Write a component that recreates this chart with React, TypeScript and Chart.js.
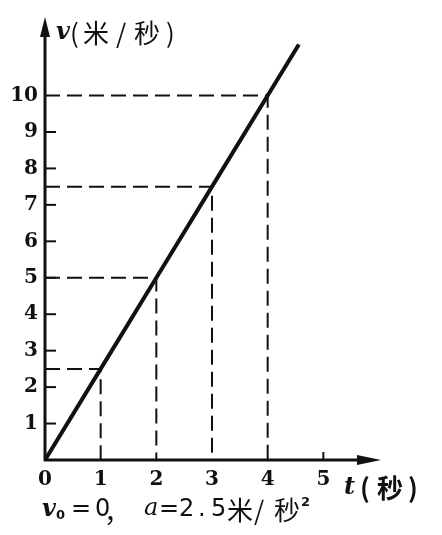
import { useEffect, useRef } from "react";
import { Chart, registerables } from "chart.js";

Chart.register(...registerables);

// Data
const lineT = [0, 1, 2, 3, 4, 4.56];
const lineV = [0, 2.5, 5, 7.5, 10, 11.4];
const markT = [1, 2, 3, 4];
const markV = [2.5, 5, 7.5, 10];
const xTickLabels = ["0", "1", "2", "3", "4", "5"];
const yTickLabels = ["1", "2", "3", "4", "5", "6", "7", "8", "9", "10"];
const yTickMarks = [1, 2, 3, 4, 5, 6, 7, 8, 9];
const xTickMarks = [5];
const yAxisTitle = ["v", "(", "米", "/", "秒", ")"];
const xAxisTitle = ["t", "(", "秒", ")"];
// caption: v₀=0， a=2.5米/秒²
const captionParts = ["v", "0", "=", "0", "，", "a", "=", "2", ".", "5", "米", "/", "秒", "2"];

const INK = "#111111";

const SERIF_IT = "italic bold 24px 'DejaVu Serif'";
const CJK = "26px 'Noto Sans CJK SC'";
const CJK_B = "bold 26px 'Noto Sans CJK SC'";
const SANS = "24px 'DejaVu Sans'";
const SMALL = "bold 13px 'DejaVu Sans'";

const captionStyle: [string, number, number][] = [
  [SERIF_IT, 42, 510],
  [SMALL, 56, 516],
  [SANS, 71, 510],
  [SANS, 95, 510],
  [CJK, 104, 512],
  ["italic 24px 'DejaVu Serif'", 144, 509],
  [SANS, 159, 510],
  [SANS, 179, 510],
  [SANS, 198, 510],
  [SANS, 211, 510],
  [CJK, 227, 510],
  [CJK, 254, 510],
  [CJK, 274, 510],
  [SMALL, 301, 503],
];

const axesPlugin = {
  id: "arrowAxes",
  afterDraw(chart: any) {
    const ctx = chart.ctx as CanvasRenderingContext2D;
    const xs = chart.scales.x;
    const ys = chart.scales.y;
    const x0 = xs.getPixelForValue(0);
    const y0 = ys.getPixelForValue(0);
    const xEnd = xs.getPixelForValue(xs.max);
    const yEnd = ys.getPixelForValue(ys.max);
    ctx.save();
    ctx.strokeStyle = INK;
    ctx.fillStyle = INK;
    ctx.lineWidth = 3;
    ctx.lineCap = "butt";
    // y axis
    ctx.beginPath();
    ctx.moveTo(x0, y0 + 1);
    ctx.lineTo(x0, yEnd + 10);
    ctx.stroke();
    ctx.beginPath();
    ctx.moveTo(x0, yEnd - 2);
    ctx.lineTo(x0 - 5, yEnd + 18);
    ctx.lineTo(x0 + 5, yEnd + 18);
    ctx.closePath();
    ctx.fill();
    // x axis
    ctx.beginPath();
    ctx.moveTo(x0 - 1, y0);
    ctx.lineTo(xEnd - 10, y0);
    ctx.stroke();
    ctx.beginPath();
    ctx.moveTo(xEnd + 2, y0);
    ctx.lineTo(xEnd - 22, y0 - 5);
    ctx.lineTo(xEnd - 22, y0 + 5);
    ctx.closePath();
    ctx.fill();
    // tick marks
    ctx.lineWidth = 2;
    yTickMarks.forEach((v) => {
      const py = ys.getPixelForValue(v);
      ctx.beginPath();
      ctx.moveTo(x0, py);
      ctx.lineTo(x0 + 11, py);
      ctx.stroke();
    });
    xTickMarks.forEach((t) => {
      const px = xs.getPixelForValue(t);
      ctx.beginPath();
      ctx.moveTo(px, y0);
      ctx.lineTo(px, y0 - 8);
      ctx.stroke();
    });
    // y axis title
    ctx.textBaseline = "middle";
    ctx.textAlign = "left";
    const yTitlePos = [56, 70, 83, 116, 134, 166];
    yAxisTitle.forEach((s, i) => {
      ctx.font = i === 0 ? SERIF_IT : CJK;
      ctx.fillText(s, yTitlePos[i], 33);
    });
    // x axis title
    const xTitlePos = [344, 360, 377, 408];
    xAxisTitle.forEach((s, i) => {
      ctx.font = i === 0 ? SERIF_IT : CJK_B;
      ctx.fillText(s, xTitlePos[i], 488);
    });
    // caption
    captionParts.forEach((s, i) => {
      const [f, px, py] = captionStyle[i];
      ctx.font = f;
      ctx.fillText(s, px, py);
    });
    ctx.restore();
  },
};

export default function App() {
  const ref = useRef<HTMLCanvasElement | null>(null);
  useEffect(() => {
    if (!ref.current) return;
    const dashed = markT.map((t, i) => ({
      data: [
        { x: 0, y: markV[i] },
        { x: t, y: markV[i] },
        { x: t, y: 0 },
      ],
      borderColor: INK,
      borderWidth: 2,
      borderDash: [15, 7],
      pointRadius: 0,
      showLine: true,
      fill: false,
    }));
    const chart = new Chart(ref.current, {
      type: "scatter",
      data: {
        datasets: [
          ...dashed,
          {
            data: lineT.map((t, i) => ({ x: t, y: lineV[i] })),
            borderColor: INK,
            borderWidth: 4,
            pointRadius: 0,
            showLine: true,
            fill: false,
          },
        ],
      },
      plugins: [axesPlugin],
      options: {
        responsive: false,
        animation: false,
        layout: { padding: { top: 16, right: 63, left: 0, bottom: 0 } },
        plugins: { legend: { display: false }, tooltip: { enabled: false } },
        scales: {
          x: {
            type: "linear",
            min: 0,
            max: 6,
            grid: { display: false, drawTicks: false },
            border: { display: false },
            afterFit: (s: any) => {
              s.height = 75;
            },
            ticks: {
              stepSize: 1,
              padding: 8,
              color: INK,
              font: { family: "'DejaVu Serif'", size: 20, weight: "bold" },
              autoSkip: false,
              maxRotation: 0,
              callback: (v: any) =>
                Number.isInteger(v) && v < xTickLabels.length ? xTickLabels[v] : "",
            },
          },
          y: {
            type: "linear",
            min: 0,
            max: 12.1,
            grid: { display: false, drawTicks: false },
            border: { display: false },
            afterFit: (s: any) => {
              s.width = 45;
            },
            ticks: {
              stepSize: 1,
              padding: 7,
              color: INK,
              font: { family: "'DejaVu Serif'", size: 20, weight: "bold" },
              autoSkip: false,
              callback: (v: any) =>
                Number.isInteger(v) && v >= 1 && v <= yTickLabels.length
                  ? yTickLabels[v - 1]
                  : "",
            },
          },
        },
      },
    } as any);
    return () => chart.destroy();
  }, []);
  return (
    <div style={{ position: "absolute", left: 0, top: 0, width: 442, height: 535, background: "#fff" }}>
      <canvas ref={ref} width={442} height={535} />
    </div>
  );
}
